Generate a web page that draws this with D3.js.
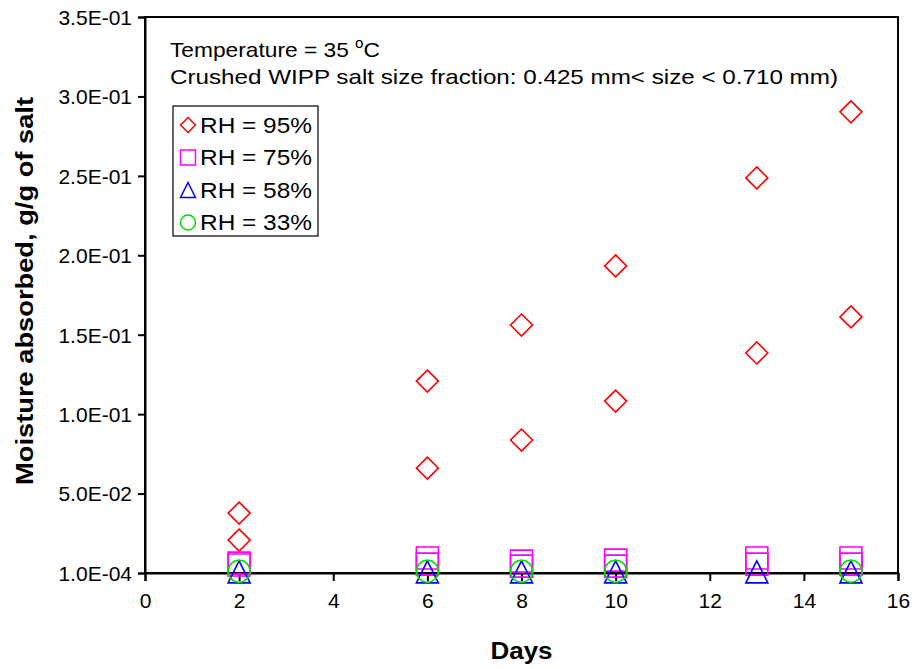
<!DOCTYPE html>
<html>
<head>
<meta charset="utf-8">
<script src="https://cdn.jsdelivr.net/npm/d3@7"></script>
<style>
  body { margin: 0; background: #fff; }
  text { font-family: "Liberation Sans", Arial, sans-serif; }
</style>
</head>
<body>
<div id="chart"></div>
<script>
// sampling days
const days = [2, 6, 8, 10, 13, 15]
// RH = 95% (two replicates)
const rh95a = [0.0378, 0.1209, 0.1562, 0.1934, 0.2488, 0.2904]
const rh95b = [0.0208, 0.0661, 0.0838, 0.1083, 0.1386, 0.1613]
// RH = 75% (two replicates)
const rh75a = [0.0063, 0.0095, 0.0076, 0.0082, 0.0095, 0.0095]
const rh75b = [0.0051, 0.0057, 0.0044, 0.0044, 0.0057, 0.0057]
// RH = 58%
const rh58 = [0.0008, 0.0008, 0.0008, 0.0008, 0.0008, 0.0008]
// RH = 33% (no reading on day 13)
const rh33 = [0.0012, 0.0012, 0.0012, 0.0012, null, 0.0012]

const xTicks = [0, 2, 4, 6, 8, 10, 12, 14, 16]
const yTicks = [0.0001, 0.0501, 0.1001, 0.1501, 0.2001, 0.2501, 0.3001, 0.3501]

const legendLabels = ['RH = 95%', 'RH = 75%', 'RH = 58%', 'RH = 33%']

const width = 916, height = 669
const margin = { left: 145, right: 18, top: 17, bottom: 96 }

const svg = d3.select('#chart').append('svg')
    .attr('width', width)
    .attr('height', height)

const x = d3.scaleLinear().domain([0, 16]).range([margin.left, width - margin.right])
const y = d3.scaleLinear().domain([0.0001, 0.3501]).range([height - margin.bottom, margin.top])

// Excel style scientific label, e.g. 1.0E-04
const sci = v => {
  const [m, e] = v.toExponential(1).split('e')
  const n = +e
  return m + 'E' + (n < 0 ? '-' : '+') + String(Math.abs(n)).padStart(2, '0')
}

// plot frame
svg.append('rect')
    .attr('x', x(0)).attr('y', y(0.3501))
    .attr('width', x(16) - x(0)).attr('height', y(0.0001) - y(0.3501))
    .attr('fill', 'none').attr('stroke', '#000').attr('stroke-width', 2)

const xAxis = svg.append('g')
    .attr('transform', `translate(0,${y(0.0001)})`)
    .call(d3.axisBottom(x).tickValues(xTicks).tickSize(8).tickPadding(12).tickFormat(d3.format('d')))
const yAxis = svg.append('g')
    .attr('transform', `translate(${x(0)},0)`)
    .call(d3.axisLeft(y).tickValues(yTicks).tickSize(7).tickPadding(6).tickFormat(sci))

for (const ax of [xAxis, yAxis]) {
  ax.select('.domain').attr('stroke-width', 2)
  ax.selectAll('.tick line').attr('stroke-width', 2)
  ax.selectAll('.tick text')
      .attr('font-size', 21)
      .attr('font-family', '"Liberation Sans", Arial, sans-serif')
      .attr('fill', '#000')
}
yAxis.selectAll('.tick text').attr('dy', '0.35em')

// axis titles
svg.append('text')
    .attr('x', x(8)).attr('y', 659)
    .attr('text-anchor', 'middle')
    .attr('font-size', 24).attr('font-weight', 'bold')
    .attr('textLength', 62).attr('lengthAdjust', 'spacingAndGlyphs')
    .text('Days')
svg.append('text')
    .attr('transform', `translate(33,${(y(0.0001) + y(0.3501)) / 2 - 4}) rotate(-90)`)
    .attr('text-anchor', 'middle')
    .attr('font-size', 24).attr('font-weight', 'bold')
    .attr('textLength', 388).attr('lengthAdjust', 'spacingAndGlyphs')
    .text('Moisture absorbed, g/g of salt')

// annotation
const note = svg.append('text').attr('x', 170).attr('y', 57).attr('font-size', 21)
    .attr('textLength', 210).attr('lengthAdjust', 'spacingAndGlyphs')
note.append('tspan').text('Temperature = 35 ')
note.append('tspan').attr('font-size', 14).attr('dy', -9).text('o')
note.append('tspan').attr('dy', 9).text('C')
svg.append('text').attr('x', 170).attr('y', 84).attr('font-size', 21)
    .attr('textLength', 668).attr('lengthAdjust', 'spacingAndGlyphs')
    .text('Crushed WIPP salt size fraction: 0.425 mm< size < 0.710 mm)')

// markers
const S = 11
const shapes = {
  diamond: `M0,${-S}L${S},0L0,${S}L${-S},0Z`,
  square: `M${-S},${-S}H${S}V${S}H${-S}Z`,
  triangle: `M0,${-S}L${S},${S}H${-S}Z`,
  circle: `M${S},0A${S},${S} 0 1,1 ${-S},0A${S},${S} 0 1,1 ${S},0Z`
}

const series = [
  { vals: rh95a, shape: 'diamond', color: '#ff0000' },
  { vals: rh95b, shape: 'diamond', color: '#ff0000' },
  { vals: rh75a, shape: 'square', color: '#ff00ff' },
  { vals: rh75b, shape: 'square', color: '#ff00ff' },
  { vals: rh58, shape: 'triangle', color: '#0000ff' },
  { vals: rh33, shape: 'circle', color: '#00dd00' }
]

series.forEach(s => {
  const pts = days.map((d, i) => [d, s.vals[i]]).filter(p => p[1] != null)
  svg.append('g').selectAll('path')
      .data(pts)
      .join('path')
      .attr('transform', p => `translate(${x(p[0])},${y(p[1])})`)
      .attr('d', shapes[s.shape])
      .attr('fill', 'none')
      .attr('stroke', s.color)
      .attr('stroke-width', 1.6)
})

// legend
const legend = svg.append('g').attr('transform', 'translate(173,106)')
legend.append('rect')
    .attr('width', 145).attr('height', 130)
    .attr('fill', '#fff').attr('stroke', '#000').attr('stroke-width', 1.2)
const legendShapes = ['diamond', 'square', 'triangle', 'circle']
const legendColors = ['#ff0000', '#ff00ff', '#0000ff', '#00dd00']
legendLabels.forEach((lab, i) => {
  const g = legend.append('g').attr('transform', `translate(15,${19 + i * 32.5})`)
  g.append('path')
      .attr('d', shapes[legendShapes[i]])
      .attr('transform', 'scale(0.68)')
      .attr('fill', 'none')
      .attr('stroke', legendColors[i])
      .attr('stroke-width', 2.2)
  g.append('text')
      .attr('x', 12).attr('dy', '0.36em')
      .attr('font-size', 22)
      .attr('textLength', 112).attr('lengthAdjust', 'spacingAndGlyphs')
      .text(lab)
})
</script>
</body>
</html>
